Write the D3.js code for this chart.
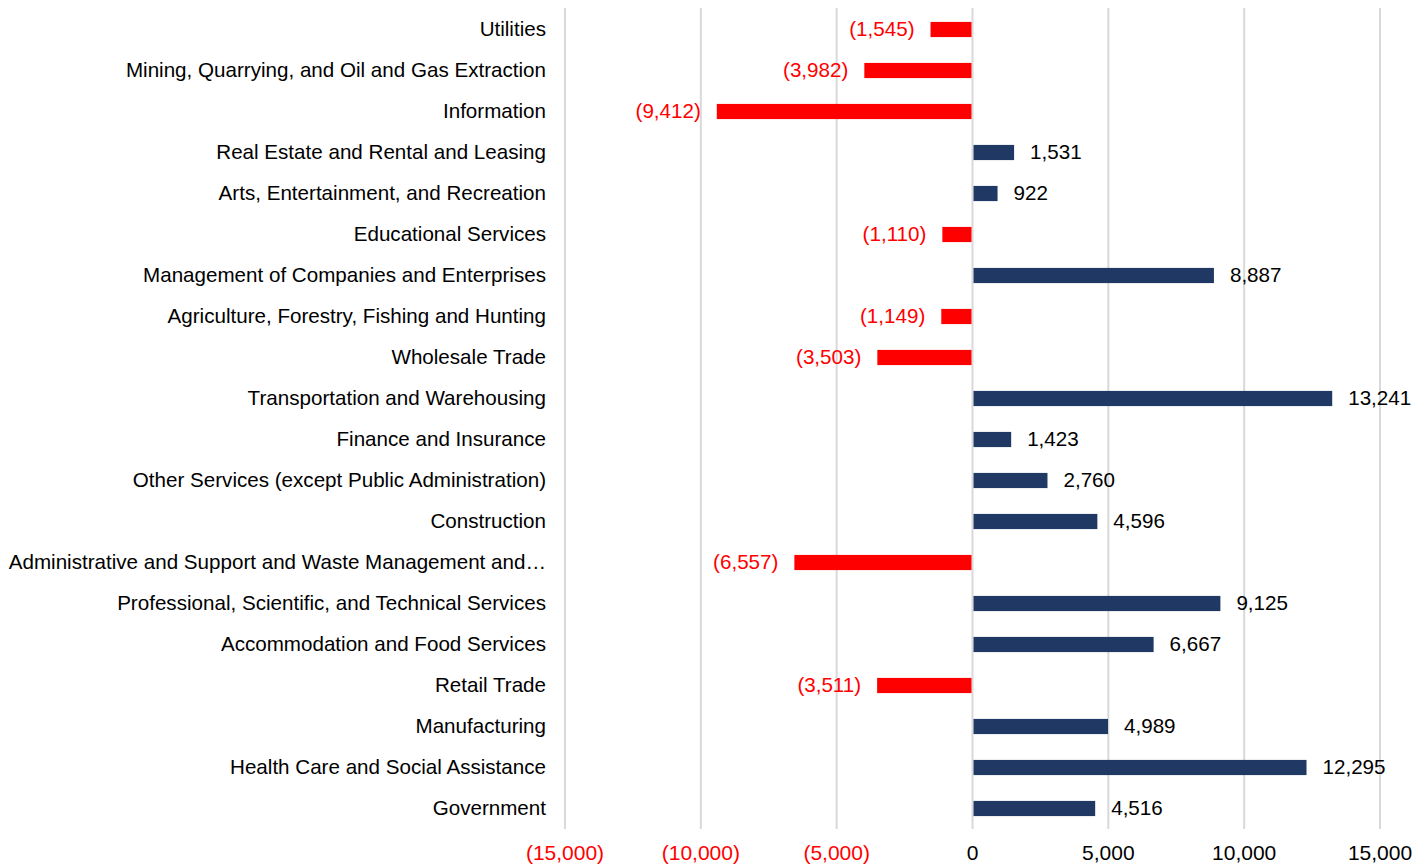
<!DOCTYPE html>
<html>
<head>
<meta charset="utf-8">
<script src="https://cdn.jsdelivr.net/npm/d3@7"></script>
<style>
  body { margin: 0; background: #fff; }
  svg text { font-family: "Liberation Sans", Arial, sans-serif; }
</style>
</head>
<body>
<div id="chart"></div>
<script>
// categories, top to bottom
var categories = [
  "Utilities",
  "Mining, Quarrying, and Oil and Gas Extraction",
  "Information",
  "Real Estate and Rental and Leasing",
  "Arts, Entertainment, and Recreation",
  "Educational Services",
  "Management of Companies and Enterprises",
  "Agriculture, Forestry, Fishing and Hunting",
  "Wholesale Trade",
  "Transportation and Warehousing",
  "Finance and Insurance",
  "Other Services (except Public Administration)",
  "Construction",
  "Administrative and Support and Waste Management and\u2026",
  "Professional, Scientific, and Technical Services",
  "Accommodation and Food Services",
  "Retail Trade",
  "Manufacturing",
  "Health Care and Social Assistance",
  "Government"
];
var values = [-1545, -3982, -9412, 1531, 922, -1110, 8887, -1149, -3503, 13241,
              1423, 2760, 4596, -6557, 9125, 6667, -3511, 4989, 12295, 4516];
var ticks = [-15000, -10000, -5000, 0, 5000, 10000, 15000];

var width = 1428, height = 867;
var posColor = "#203864", negColor = "#ff0000";

var fmt = function (v) {
  var s = d3.format(",")(Math.abs(v));
  return v < 0 ? "(" + s + ")" : s;
};

var svg = d3.select("#chart").append("svg")
    .attr("width", width).attr("height", height);

var x = d3.scaleLinear().domain([-15000, 15000]).range([565, 1380]);
var y = d3.scaleBand().domain(categories).range([9, 829]).paddingInner(0.63).paddingOuter(0.315);

//Gridlines
svg.selectAll(".grid").data(ticks).enter().append("line")
    .attr("x1", function (d) { return x(d); })
    .attr("x2", function (d) { return x(d); })
    .attr("y1", 8).attr("y2", 829)
    .attr("stroke", "#d9d9d9").attr("stroke-width", 2);

//Bars
svg.selectAll(".bar").data(values).enter().append("rect")
    .attr("x", function (d) { return d < 0 ? x(d) : x(0) + 1; })
    .attr("width", function (d) { return Math.abs(x(d) - x(0)) - 1; })
    .attr("y", function (d, i) { return y(categories[i]); })
    .attr("height", y.bandwidth())
    .attr("fill", function (d) { return d < 0 ? negColor : posColor; });

//Value labels
svg.selectAll(".val").data(values).enter().append("text")
    .attr("x", function (d) { return d < 0 ? x(d) - 16 : x(d) + 16; })
    .attr("y", function (d, i) { return y(categories[i]) + y.bandwidth() / 2; })
    .attr("dy", "0.3em")
    .attr("text-anchor", function (d) { return d < 0 ? "end" : "start"; })
    .attr("font-size", 20.6)
    .attr("fill", function (d) { return d < 0 ? negColor : "#000"; })
    .text(fmt);

//Category labels
svg.selectAll(".cat").data(categories).enter().append("text")
    .attr("x", 546)
    .attr("y", function (d) { return y(d) + y.bandwidth() / 2; })
    .attr("dy", "0.3em")
    .attr("text-anchor", "end")
    .attr("font-size", 20.6)
    .attr("fill", "#000")
    .text(function (d) { return d; });

//X axis tick labels
svg.selectAll(".tick").data(ticks).enter().append("text")
    .attr("x", function (d) { return x(d); })
    .attr("y", 853)
    .attr("dy", "0.35em")
    .attr("text-anchor", "middle")
    .attr("font-size", 21)
    .attr("fill", function (d) { return d < 0 ? negColor : "#000"; })
    .text(fmt);
</script>
</body>
</html>
